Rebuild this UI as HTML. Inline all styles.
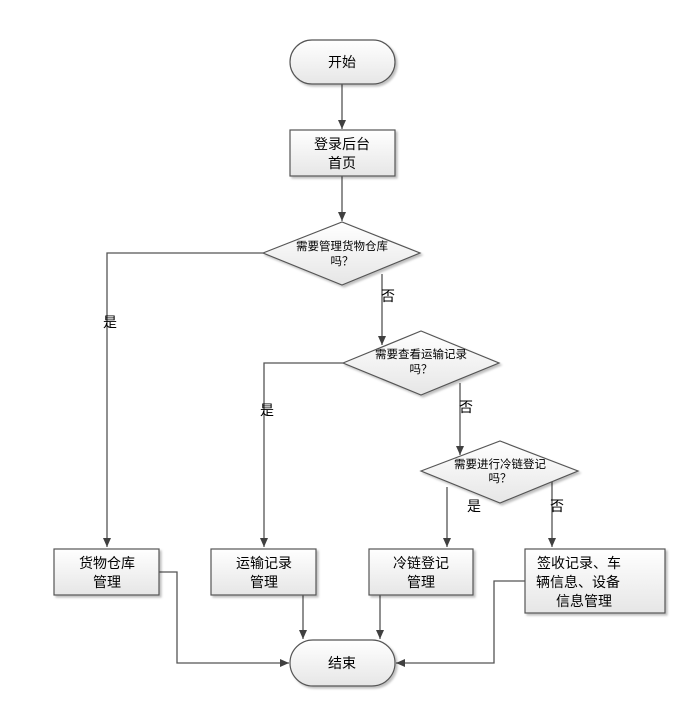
<!DOCTYPE html>
<html><head><meta charset="utf-8"><style>
html,body{margin:0;padding:0;background:#fff;}
svg{display:block;}
text{font-family:"Liberation Sans","Noto Sans CJK SC",sans-serif;fill:#000;}
</style></head><body>
<svg width="689" height="707" viewBox="0 0 689 707" xmlns="http://www.w3.org/2000/svg">
<defs>
<linearGradient id="g" x1="0" y1="0" x2="0" y2="1">
<stop offset="0" stop-color="#ffffff"/><stop offset="1" stop-color="#e6e6e6"/>
</linearGradient>
<marker id="a" markerWidth="10" markerHeight="10" refX="9" refY="5" orient="auto" markerUnits="userSpaceOnUse">
<path d="M0,1 L9,5 L0,9 z" fill="#404040"/>
</marker>
<filter id="s" x="-10%" y="-10%" width="130%" height="130%">
<feDropShadow dx="2" dy="2" stdDeviation="1" flood-color="#000" flood-opacity="0.25"/>
</filter>
</defs>
<g stroke="#555" stroke-width="1.3" fill="none">
<path d="M342,84 V129" marker-end="url(#a)"/>
<path d="M342,176 V221" marker-end="url(#a)"/>
<path d="M263,253 H107 V547" marker-end="url(#a)"/>
<path d="M382,274 V345" marker-end="url(#a)"/>
<path d="M343,363 H264 V547" marker-end="url(#a)"/>
<path d="M460,383 V455" marker-end="url(#a)"/>
<path d="M447,487 V547" marker-end="url(#a)"/>
<path d="M552,482 V547" marker-end="url(#a)"/>
<path d="M159,572 H177 V663 H289" marker-end="url(#a)"/>
<path d="M303,595 V639" marker-end="url(#a)"/>
<path d="M380,595 V639" marker-end="url(#a)"/>
<path d="M525,581 H494 V663 H396" marker-end="url(#a)"/>
</g>
<g stroke="#555" stroke-width="1.2" fill="url(#g)" filter="url(#s)">
<rect x="290" y="40" width="105" height="44" rx="22"/>
<rect x="290" y="130" width="105" height="46"/>
<polygon points="263,253 342,222 420,253 342,285"/>
<polygon points="343,363 421,331 499,363 421,395"/>
<polygon points="421,471 500,441 578,471 500,503"/>
<rect x="54" y="549" width="105" height="46"/>
<rect x="211" y="549" width="105" height="46"/>
<rect x="369" y="549" width="104" height="46"/>
<rect x="525" y="549" width="140" height="64"/>
<rect x="290" y="640" width="105" height="46" rx="23"/>
</g>
<g font-size="14" text-anchor="middle">
<text x="342" y="67">开始</text>
<text x="342" y="149">登录后台</text>
<text x="342" y="168">首页</text>
<text x="107" y="568">货物仓库</text>
<text x="107" y="587">管理</text>
<text x="264" y="568">运输记录</text>
<text x="264" y="587">管理</text>
<text x="421" y="568">冷链登记</text>
<text x="421" y="587">管理</text>
<text x="579" y="568">签收记录、车</text>
<text x="578" y="587">辆信息、设备</text>
<text x="584" y="606">信息管理</text>
<text x="342" y="668">结束</text>
<text x="110" y="327">是</text>
<text x="388" y="301">否</text>
<text x="267" y="415">是</text>
<text x="466" y="412">否</text>
<text x="474" y="511">是</text>
<text x="557" y="511">否</text>
</g>
<g font-size="11.5" text-anchor="middle">
<text x="342" y="250">需要管理货物仓库</text>
<text x="342" y="265">吗？</text>
<text x="421" y="358">需要查看运输记录</text>
<text x="421" y="373">吗？</text>
<text x="500" y="468">需要进行冷链登记</text>
<text x="500" y="482">吗？</text>
</g>
</svg>
</body></html>
